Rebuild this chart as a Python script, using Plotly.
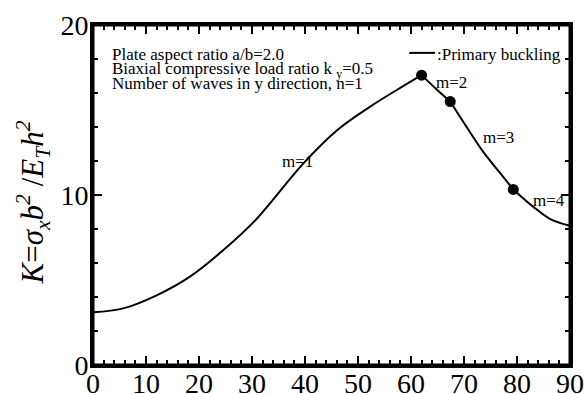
import plotly.graph_objects as go

# Data
x_m1 = [0, 5.7, 12, 18.3, 24.6, 30.9, 33.4, 39.7, 46, 52.3, 58.5, 62]
k_m1 = [3.1, 3.33, 4.1, 5.2, 6.76, 8.6, 9.51, 11.86, 13.8, 15.2, 16.4, 17.05]
x_m2 = [62, 64.7, 67.4]
k_m2 = [17.05, 16.25, 15.5]
x_m3 = [67.4, 70.5, 73.6, 76.8, 79.3]
k_m3 = [15.5, 14.0, 12.55, 11.3, 10.33]
x_m4 = [79.3, 83.1, 86.2, 89.4, 90]
k_m4 = [10.33, 9.3, 8.6, 8.24, 8.2]
x_pts = [62, 67.4, 79.3]
k_pts = [17.05, 15.5, 10.33]

x_range = [0, 90]
k_range = [0, 20]

m_labels = ["m=1", "m=2", "m=3", "m=4"]
m_label_x = [38.5, 67.6, 76.5, 86.0]
m_label_k = [12.0, 16.6, 13.4, 9.7]

info_lines = ["Plate aspect ratio a/b=2.0",
              "Biaxial compressive load ratio k <sub>y</sub>=0.5",
              "Number of waves in y direction, n=1"]
info_y = [0.913, 0.867, 0.827]

FONT = "Liberation Serif, Times New Roman, serif"

fig = go.Figure()
# frame drawn as a closed path on the axis range
fig.add_trace(go.Scatter(x=[x_range[0], x_range[1], x_range[1], x_range[0], x_range[0]],
                         y=[k_range[0], k_range[0], k_range[1], k_range[1], k_range[0]],
                         mode="lines", line=dict(color="black", width=3),
                         cliponaxis=False, showlegend=False, hoverinfo="skip"))
for xs, ks in [(x_m1, k_m1), (x_m2, k_m2), (x_m3, k_m3), (x_m4, k_m4)]:
    fig.add_trace(go.Scatter(x=xs, y=ks, mode="lines",
                             line=dict(color="black", width=2, shape="spline", smoothing=1.0),
                             showlegend=False, hoverinfo="skip"))
fig.add_trace(go.Scatter(x=x_pts, y=k_pts, mode="markers",
                         marker=dict(color="black", size=11), showlegend=False))

for t, xx, kk in zip(m_labels, m_label_x, m_label_k):
    fig.add_annotation(x=xx, y=kk, text=t, showarrow=False,
                       font=dict(family=FONT, size=17, color="black"))

for t, yy in zip(info_lines, info_y):
    fig.add_annotation(xref="paper", yref="paper", x=0.0356, y=yy,
                       xanchor="left", yanchor="middle", text=t, showarrow=False,
                       font=dict(family=FONT, size=17, color="black"))

# legend sample line
fig.add_shape(type="line", xref="paper", yref="paper", x0=0.663, x1=0.717,
              y0=0.918, y1=0.918, line=dict(color="black", width=2))
fig.add_annotation(xref="paper", yref="paper", x=0.716, y=0.913, xanchor="left",
                   yanchor="middle", text=":Primary buckling", showarrow=False,
                   font=dict(family=FONT, size=17, color="black"))

# y-axis title
fig.add_annotation(xref="paper", yref="paper", x=-0.125, y=0.479, textangle=-90,
                   xanchor="center", yanchor="middle",
                   text="<i>K</i>=<i>σ<sub>x</sub>b<sup>2</sup></i> /<i>E<sub>T</sub>h<sup>2</sup></i>",
                   showarrow=False, font=dict(family=FONT, size=31, color="black"))

axis_common = dict(showgrid=False, zeroline=False, showline=True, linecolor="#000000",
                   linewidth=3, mirror="allticks", ticks="inside", ticklen=9,
                   tickwidth=1.5, tickcolor="#000000", automargin=False,
                   layer="above traces",
                   tickfont=dict(family=FONT, size=28, color="black"),
                   minor=dict(ticks="inside", ticklen=5, tickwidth=1.5, tickcolor="#000000"))
fig.update_layout(
    xaxis=dict(range=x_range, dtick=10, tick0=0, ticklabelstandoff=-9, **axis_common),
    yaxis=dict(range=k_range, dtick=10, tick0=0, ticklabelstandoff=-4, **axis_common),
)

fig.update_layout(width=586, height=394, margin=dict(l=93, r=16, t=25, b=29),
                  plot_bgcolor="rgba(0,0,0,0)", paper_bgcolor="white",
                  font=dict(family=FONT, color="black"))
fig.write_html("out.html")
